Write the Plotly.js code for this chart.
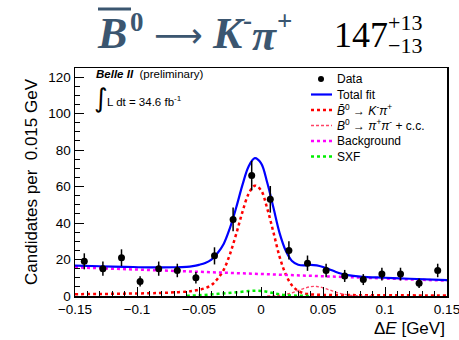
<!DOCTYPE html>
<html><head><meta charset="utf-8">
<script src="https://cdn.plot.ly/plotly-3.0.1.min.js"></script>
<style>html,body{margin:0;padding:0;background:#fff;}#plot{width:459px;height:340px;}</style>
</head><body><div id="plot"></div>
<script>
// Data points (bin centres, counts, errors)
const binCenters = [-0.1425,-0.1275,-0.1125,-0.0975,-0.0825,-0.0675,-0.0525,-0.0375,-0.0225,-0.0075,
                    0.0075,0.0225,0.0375,0.0525,0.0675,0.0825,0.0975,0.1125,0.1275,0.1425];
const counts = [19,15,21,8,15,14,10,22,42,66,53,25,18,14,11,9,12,12,7,14];
const countErr = [4.4,3.9,4.6,2.8,3.9,3.7,3.2,4.7,6.5,8.1,7.3,5.0,4.2,3.7,3.3,3.0,3.5,3.5,2.6,3.7];

// Fit curves
const fitX = [-0.15,-0.13,-0.11,-0.09,-0.08,-0.07,-0.06,-0.055,-0.05,-0.045,-0.04,-0.035,-0.03,-0.025,-0.02,-0.015,-0.01,-0.005,
              0,0.005,0.01,0.015,0.02,0.025,0.03,0.035,0.04,0.045,0.05,0.055,0.06,0.065,0.07,0.08,0.1,0.12,0.15];
const totalFit = [16.7,16.3,16.0,15.7,15.7,15.75,16.0,16.4,17.1,18.05,19.9,23.55,28.7,37.4,48.5,60.75,71.0,75.6,
                  72.85,62.2,48.5,34.5,24.8,19.2,17.15,16.8,17.1,16.8,15.9,14.65,13.3,12.2,11.45,10.65,10.0,9.45,8.7];
const sigKpi = [1.0,1.1,1.3,1.5,1.7,2.0,2.4,2.8,3.4,4.3,6.0,9.5,14.5,23,34,46,56,60.5,
                58,48,35,21.5,11.8,5.8,2.8,1.4,0.9,0.7,0.6,0.55,0.5,0.5,0.5,0.45,0.4,0.35,0.3];
const pipiX = [0.005,0.01,0.015,0.02,0.025,0.03,0.035,0.04,0.045,0.05,0.055,0.06,0.065,0.07,0.08,0.09];
const pipiY = [0.02,0.1,0.4,0.9,1.7,2.9,4.2,5.1,5.2,4.5,3.4,2.2,1.2,0.6,0.1,0.02];
const bgX = [-0.15,0.15];
const bgY = [15.7,8.4];
const sxfX = [-0.06,-0.05,-0.04,-0.03,-0.02,-0.01,-0.005,0,0.005,0.01,0.015,0.02,0.03,0.04];
const sxfY = [0.15,0.4,0.9,1.4,2.0,2.7,2.9,2.8,2.3,1.6,0.9,0.5,0.15,0.05];

const xTicks = [-0.15,-0.1,-0.05,0,0.05,0.1,0.15];
const xTickText = ['\u22120.15','\u22120.1','\u22120.05','0','0.05','0.1','0.15'];
const yTicks = [0,20,40,60,80,100,120];
const legendLabels = ['Data','Total fit',
  '<i>B\u0304</i><sup>0</sup> \u2192 <i>K</i><sup>-</sup><i>\u03c0</i><sup>+</sup>',
  '<i>B</i><sup>0</sup> \u2192 <i>\u03c0</i><sup>+</sup><i>\u03c0</i><sup>-</sup> + c.c.',
  'Background','SXF'];

const SANS = 'Liberation Sans, Arial, sans-serif';
const SERIF = 'Liberation Serif, Times New Roman, serif';
const SLATE = '#3b5670';

const styles = {
  sig:{color:'#ff0000', width:2.5, dash:'dot'},
  pipi:{color:'#ff4466', width:1.3, dash:'3px,2px'},
  bg:{color:'#ff00ff', width:2.5, dash:'dot'},
  sxf:{color:'#00ee00', width:2.5, dash:'dot'},
  tot:{color:'#0000ff', width:2.2}
};

const traces = [
  {x: fitX, y: sigKpi, mode:'lines', line:Object.assign({shape:'spline'}, styles.sig), showlegend:false},
  {x: pipiX, y: pipiY, mode:'lines', line:Object.assign({shape:'spline'}, styles.pipi), showlegend:false},
  {x: bgX, y: bgY, mode:'lines', line:styles.bg, showlegend:false},
  {x: sxfX, y: sxfY, mode:'lines', line:Object.assign({shape:'spline'}, styles.sxf), showlegend:false},
  {x: fitX, y: totalFit, mode:'lines', line:Object.assign({shape:'spline'}, styles.tot), showlegend:false},
  {x: binCenters, y: counts, mode:'markers', marker:{color:'#000', size:7},
   error_y:{type:'data', array:countErr, color:'#000', thickness:1.5, width:0}, showlegend:false}
];

// helpers: pixel -> paper
const L=75, R=447, T=68, B=296;
const px = v => (v-L)/(R-L);
const py = v => (B-v)/(B-T);

function ann(x, y, text, font, xanchor) {
  return {x:px(x), y:py(y), xref:'paper', yref:'paper', xanchor:xanchor||'left', yanchor:'middle',
          showarrow:false, text:text, font:font};
}

const annotations = [
  ann(95, 33, '<b><i>B</i></b>', {family:SERIF, size:44, color:SLATE}),
  ann(128, 22, '<b>0</b>', {family:SERIF, size:27, color:SLATE}),
  ann(178, 35, '\u27f6', {family:'DejaVu Sans', size:34, color:SLATE}, 'center'),
  ann(210, 33, '<b><i>K</i></b>', {family:SERIF, size:44, color:SLATE}),
  ann(241, 20, '<b>-</b>', {family:SERIF, size:27, color:SLATE}),
  ann(250, 35, '<b><i>\u03c0</i></b>', {family:SERIF, size:44, color:SLATE}),
  ann(275, 21, '<b>+</b>', {family:SERIF, size:27, color:SLATE}),
  ann(332, 35, '147', {family:SERIF, size:36, color:'#000'}),
  ann(386, 22, '+13', {family:SERIF, size:22, color:'#000'}),
  ann(386, 45, '\u221213', {family:SERIF, size:22, color:'#000'}),
  ann(94, 74, '<b><i>Belle II</i></b>  (preliminary)', {family:SANS, size:11.5, color:'#000'}),
  ann(92, 98, '\u222b', {family:'DejaVu Sans', size:26, color:'#000'}),
  ann(105, 101, 'L dt = 34.6 fb<sup>-1</sup>', {family:SANS, size:11.5, color:'#000'}),
  ann(447, 328, '\u0394<i>E</i> [GeV]', {family:SANS, size:17, color:'#000'}, 'right')
];

const shapes = [
  {type:'line', xref:'paper', yref:'paper', x0:px(98), x1:px(131), y0:py(9), y1:py(9), line:{color:SLATE, width:3}}
];

// manual legend (compact row spacing like the reference)
const legRows = [79, 94.5, 110, 125.5, 141, 156.5];
const legStyles = [null, styles.tot, styles.sig, styles.pipi, styles.bg, styles.sxf];
legRows.forEach((yy, i) => {
  annotations.push(ann(335, yy, legendLabels[i], {family:SANS, size:12, color:'#000'}));
  if (i === 0) {
    shapes.push({type:'circle', xref:'paper', yref:'paper', x0:px(318), x1:px(324), y0:py(82), y1:py(76),
                 fillcolor:'#000', line:{color:'#000', width:0}});
  } else {
    shapes.push({type:'line', xref:'paper', yref:'paper', x0:px(311), x1:px(332), y0:py(yy), y1:py(yy),
                 line:legStyles[i]});
  }
});

const layout = {
  width:459, height:340,
  margin:{l:L, r:459-R, t:T, b:340-B, pad:0},
  paper_bgcolor:'#fff', plot_bgcolor:'#fff',
  font:{family:SANS, color:'#000'},
  showlegend:false,
  xaxis:{range:[-0.150001,0.150001], tickvals:xTicks, ticktext:xTickText, ticks:'inside', ticklen:9, tickwidth:1,
         tickcolor:'#000', showline:true, linecolor:'#000', linewidth:1.5, mirror:true, showgrid:false, zeroline:false,
         tickfont:{family:SANS, size:13.5, color:'#000'}, ticklabeloverflow:'allow',
         minor:{dtick:0.01, ticks:'inside', ticklen:5, tickcolor:'#000', showgrid:false}},
  yaxis:{range:[0,125], tickvals:yTicks, ticks:'inside', ticklen:9, tickwidth:1, tickcolor:'#000',
         showline:true, linecolor:'#000', linewidth:1.5, mirror:true, showgrid:false, zeroline:false,
         tickfont:{family:SANS, size:13.5, color:'#000'},
         minor:{dtick:5, ticks:'inside', ticklen:5, tickcolor:'#000', showgrid:false},
         title:{text:'Candidates per  0.015 GeV', font:{family:SANS, size:17, color:'#000'}, standoff:6}},
  annotations: annotations,
  shapes: shapes
};

Plotly.newPlot('plot', traces, layout, {displayModeBar:false, staticPlot:true});
</script></body></html>
